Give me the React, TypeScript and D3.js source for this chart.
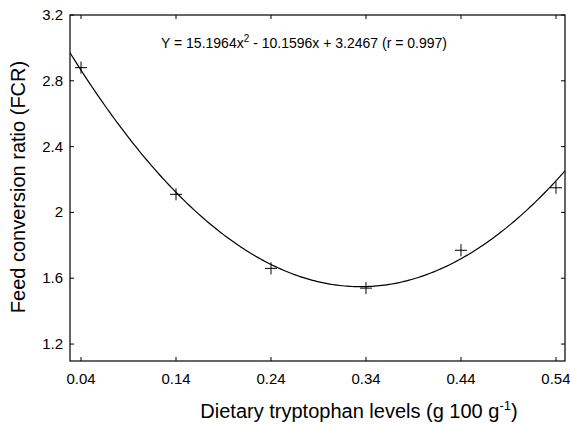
import React, { useEffect, useRef } from 'react';
import * as d3 from 'd3';

// measured FCR values at each tryptophan level
const levels = [0.04, 0.14, 0.24, 0.34, 0.44, 0.54];
const fcr = [2.88, 2.11, 1.66, 1.54, 1.77, 2.15];

const xTicks = [0.04, 0.14, 0.24, 0.34, 0.44, 0.54];
const xTickLabels = ['0.04', '0.14', '0.24', '0.34', '0.44', '0.54'];
const yTicks = [1.2, 1.6, 2.0, 2.4, 2.8, 3.2];
const yTickLabels = ['1.2', '1.6', '2', '2.4', '2.8', '3.2'];

// quadratic fit shown on the chart: a x^2 + b x + c
const fitCoef = [15.1964, -10.1596, 3.2467];

const App = () => {
  const svgRef = useRef<SVGSVGElement>(null);

  useEffect(() => {
    const svg = d3.select(svgRef.current);
    svg.selectAll('*').remove();

    const W = 570;
    const H = 424;
    const margin = { top: 15, right: 5, bottom: 63, left: 70 };
    const width = W - margin.left - margin.right;
    const height = H - margin.top - margin.bottom;
    const font = 'Liberation Sans, Arial, Helvetica, sans-serif';

    svg.attr('width', W).attr('height', H);
    const g = svg.append('g').attr('transform', `translate(${margin.left},${margin.top})`);

    const x = d3.scaleLinear().domain([0.0284, 0.5495]).range([0, width]);
    const y = d3.scaleLinear().domain([1.097, 3.2]).range([height, 0]);

    // frame
    g.append('rect')
      .attr('width', width)
      .attr('height', height)
      .attr('fill', 'none')
      .attr('stroke', '#000')
      .attr('stroke-width', 1.2);

    const tl = 4;
    // inward ticks on all four sides
    xTicks.forEach((t) => {
      g.append('line').attr('x1', x(t)).attr('x2', x(t)).attr('y1', height).attr('y2', height - tl).attr('stroke', '#000');
      g.append('line').attr('x1', x(t)).attr('x2', x(t)).attr('y1', 0).attr('y2', tl).attr('stroke', '#000');
    });
    yTicks.forEach((t) => {
      g.append('line').attr('x1', 0).attr('x2', tl).attr('y1', y(t)).attr('y2', y(t)).attr('stroke', '#000');
      g.append('line').attr('x1', width).attr('x2', width - tl).attr('y1', y(t)).attr('y2', y(t)).attr('stroke', '#000');
    });

    g.selectAll('.xlab')
      .data(xTicks)
      .enter()
      .append('text')
      .attr('x', (d) => x(d))
      .attr('y', height + 23)
      .attr('text-anchor', 'middle')
      .style('font-family', font)
      .style('font-size', '15px')
      .text((d, i) => xTickLabels[i]);

    g.selectAll('.ylab')
      .data(yTicks)
      .enter()
      .append('text')
      .attr('x', -7)
      .attr('y', (d) => y(d) + 5)
      .attr('text-anchor', 'end')
      .style('font-family', font)
      .style('font-size', '15px')
      .text((d, i) => yTickLabels[i]);

    // fitted curve
    const [a, b, c] = fitCoef;
    const xs = d3.range(0, 201).map((i) => x.domain()[0] + (i / 200) * (x.domain()[1] - x.domain()[0]));
    const line = d3
      .line<number>()
      .x((d) => x(d))
      .y((d) => y(a * d * d + b * d + c));
    g.append('path').datum(xs).attr('d', line).attr('fill', 'none').attr('stroke', '#000').attr('stroke-width', 1.2);

    // cross markers
    const s = 6;
    levels.forEach((lv, i) => {
      const cx = x(lv);
      const cy = y(fcr[i]);
      g.append('line').attr('x1', cx - s).attr('x2', cx + s).attr('y1', cy).attr('y2', cy).attr('stroke', '#000');
      g.append('line').attr('x1', cx).attr('x2', cx).attr('y1', cy - s).attr('y2', cy + s).attr('stroke', '#000');
    });

    // equation
    const eq = g
      .append('text')
      .attr('x', 234)
      .attr('y', 33)
      .attr('text-anchor', 'middle')
      .style('font-family', font)
      .style('font-size', '14px');
    eq.append('tspan').text('Y = 15.1964x');
    eq.append('tspan').attr('dy', -6).style('font-size', '10px').text('2');
    eq.append('tspan').attr('dy', 6).text(' - 10.1596x + 3.2467 (r = 0.997)');

    // axis titles
    const xl = svg
      .append('text')
      .attr('x', 359)
      .attr('y', 418)
      .attr('text-anchor', 'middle')
      .style('font-family', font)
      .style('font-size', '20px');
    xl.append('tspan').text('Dietary tryptophan levels (g 100 g');
    xl.append('tspan').attr('dy', -8).style('font-size', '13px').text('-1');
    xl.append('tspan').attr('dy', 8).text(')');

    svg
      .append('text')
      .attr('transform', 'rotate(-90)')
      .attr('x', -187)
      .attr('y', 25)
      .attr('text-anchor', 'middle')
      .style('font-family', font)
      .style('font-size', '20px')
      .text('Feed conversion ratio (FCR)');
  }, []);

  return <svg ref={svgRef} style={{ position: 'absolute', left: 0, top: 0 }}></svg>;
};

export default App;
